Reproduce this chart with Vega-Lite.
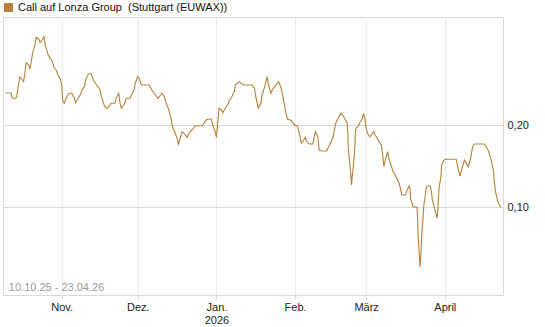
{
  "$schema": "https://vega.github.io/schema/vega-lite/v6.json",
  "width": 500,
  "height": 278,
  "autosize": {"type": "none"},
  "padding": {"left": 3, "top": 17, "right": 42, "bottom": 32},
  "background": "white",
  "config": {
    "font": "Liberation Sans",
    "view": {"stroke": "#d9d9d9", "strokeWidth": 1}
  },
  "data": {"values": [
    {"d": "2025-10-10T00:00", "v": 0.2390},
    {"d": "2025-10-12T00:00", "v": 0.2390},
    {"d": "2025-10-12T12:00", "v": 0.2326},
    {"d": "2025-10-14T00:00", "v": 0.2326},
    {"d": "2025-10-14T12:00", "v": 0.2387},
    {"d": "2025-10-15T00:00", "v": 0.2488},
    {"d": "2025-10-15T12:00", "v": 0.2589},
    {"d": "2025-10-16T00:00", "v": 0.2570},
    {"d": "2025-10-17T00:00", "v": 0.2528},
    {"d": "2025-10-17T12:00", "v": 0.2630},
    {"d": "2025-10-18T00:00", "v": 0.2760},
    {"d": "2025-10-19T00:00", "v": 0.2732},
    {"d": "2025-10-19T12:00", "v": 0.2683},
    {"d": "2025-10-20T00:00", "v": 0.2772},
    {"d": "2025-10-20T12:00", "v": 0.2874},
    {"d": "2025-10-21T12:00", "v": 0.2976},
    {"d": "2025-10-22T00:00", "v": 0.3070},
    {"d": "2025-10-23T00:00", "v": 0.3045},
    {"d": "2025-10-23T12:00", "v": 0.3009},
    {"d": "2025-10-24T12:00", "v": 0.3045},
    {"d": "2025-10-25T00:00", "v": 0.3077},
    {"d": "2025-10-25T12:00", "v": 0.2976},
    {"d": "2025-10-26T12:00", "v": 0.2874},
    {"d": "2025-10-27T00:00", "v": 0.2833},
    {"d": "2025-10-28T00:00", "v": 0.2793},
    {"d": "2025-10-28T12:00", "v": 0.2752},
    {"d": "2025-10-29T00:00", "v": 0.2704},
    {"d": "2025-10-30T00:00", "v": 0.2662},
    {"d": "2025-10-30T12:00", "v": 0.2610},
    {"d": "2025-10-31T12:00", "v": 0.2557},
    {"d": "2025-11-01T00:00", "v": 0.2488},
    {"d": "2025-11-01T12:00", "v": 0.2284},
    {"d": "2025-11-02T00:00", "v": 0.2265},
    {"d": "2025-11-02T12:00", "v": 0.2305},
    {"d": "2025-11-03T00:00", "v": 0.2345},
    {"d": "2025-11-04T00:00", "v": 0.2387},
    {"d": "2025-11-05T00:00", "v": 0.2387},
    {"d": "2025-11-06T00:00", "v": 0.2326},
    {"d": "2025-11-06T12:00", "v": 0.2272},
    {"d": "2025-11-07T12:00", "v": 0.2326},
    {"d": "2025-11-08T12:00", "v": 0.2378},
    {"d": "2025-11-09T00:00", "v": 0.2427},
    {"d": "2025-11-10T00:00", "v": 0.2467},
    {"d": "2025-11-10T12:00", "v": 0.2557},
    {"d": "2025-11-11T12:00", "v": 0.2618},
    {"d": "2025-11-12T12:00", "v": 0.2630},
    {"d": "2025-11-13T12:00", "v": 0.2549},
    {"d": "2025-11-14T12:00", "v": 0.2500},
    {"d": "2025-11-15T00:00", "v": 0.2476},
    {"d": "2025-11-16T00:00", "v": 0.2439},
    {"d": "2025-11-16T12:00", "v": 0.2366},
    {"d": "2025-11-17T12:00", "v": 0.2265},
    {"d": "2025-11-18T00:00", "v": 0.2223},
    {"d": "2025-11-19T00:00", "v": 0.2204},
    {"d": "2025-11-20T00:00", "v": 0.2244},
    {"d": "2025-11-20T12:00", "v": 0.2265},
    {"d": "2025-11-22T00:00", "v": 0.2265},
    {"d": "2025-11-22T12:00", "v": 0.2326},
    {"d": "2025-11-23T12:00", "v": 0.2387},
    {"d": "2025-11-24T00:00", "v": 0.2265},
    {"d": "2025-11-24T12:00", "v": 0.2204},
    {"d": "2025-11-25T12:00", "v": 0.2244},
    {"d": "2025-11-26T12:00", "v": 0.2326},
    {"d": "2025-11-28T00:00", "v": 0.2326},
    {"d": "2025-11-28T12:00", "v": 0.2366},
    {"d": "2025-11-29T12:00", "v": 0.2427},
    {"d": "2025-11-30T00:00", "v": 0.2509},
    {"d": "2025-12-01T00:00", "v": 0.2589},
    {"d": "2025-12-01T12:00", "v": 0.2570},
    {"d": "2025-12-02T12:00", "v": 0.2488},
    {"d": "2025-12-03T12:00", "v": 0.2488},
    {"d": "2025-12-05T12:00", "v": 0.2488},
    {"d": "2025-12-06T12:00", "v": 0.2427},
    {"d": "2025-12-07T12:00", "v": 0.2387},
    {"d": "2025-12-08T12:00", "v": 0.2345},
    {"d": "2025-12-09T00:00", "v": 0.2326},
    {"d": "2025-12-10T00:00", "v": 0.2366},
    {"d": "2025-12-10T12:00", "v": 0.2387},
    {"d": "2025-12-11T12:00", "v": 0.2345},
    {"d": "2025-12-12T00:00", "v": 0.2284},
    {"d": "2025-12-13T00:00", "v": 0.2204},
    {"d": "2025-12-14T00:00", "v": 0.2101},
    {"d": "2025-12-14T12:00", "v": 0.2000},
    {"d": "2025-12-15T12:00", "v": 0.1918},
    {"d": "2025-12-16T12:00", "v": 0.1838},
    {"d": "2025-12-17T00:00", "v": 0.1768},
    {"d": "2025-12-17T12:00", "v": 0.1817},
    {"d": "2025-12-18T12:00", "v": 0.1918},
    {"d": "2025-12-19T12:00", "v": 0.1890},
    {"d": "2025-12-20T12:00", "v": 0.1850},
    {"d": "2025-12-21T00:00", "v": 0.1890},
    {"d": "2025-12-22T00:00", "v": 0.1930},
    {"d": "2025-12-23T00:00", "v": 0.1960},
    {"d": "2025-12-23T12:00", "v": 0.1991},
    {"d": "2025-12-26T12:00", "v": 0.1991},
    {"d": "2025-12-27T00:00", "v": 0.2021},
    {"d": "2025-12-28T00:00", "v": 0.2061},
    {"d": "2025-12-29T00:00", "v": 0.2073},
    {"d": "2025-12-30T00:00", "v": 0.2073},
    {"d": "2025-12-30T12:00", "v": 0.2000},
    {"d": "2025-12-31T12:00", "v": 0.1918},
    {"d": "2026-01-01T00:00", "v": 0.1850},
    {"d": "2026-01-01T12:00", "v": 0.2021},
    {"d": "2026-01-02T00:00", "v": 0.2204},
    {"d": "2026-01-03T00:00", "v": 0.2183},
    {"d": "2026-01-03T12:00", "v": 0.2150},
    {"d": "2026-01-04T12:00", "v": 0.2204},
    {"d": "2026-01-05T12:00", "v": 0.2252},
    {"d": "2026-01-06T00:00", "v": 0.2296},
    {"d": "2026-01-07T00:00", "v": 0.2338},
    {"d": "2026-01-08T00:00", "v": 0.2406},
    {"d": "2026-01-08T12:00", "v": 0.2488},
    {"d": "2026-01-09T12:00", "v": 0.2516},
    {"d": "2026-01-10T00:00", "v": 0.2528},
    {"d": "2026-01-11T00:00", "v": 0.2500},
    {"d": "2026-01-12T00:00", "v": 0.2488},
    {"d": "2026-01-15T00:00", "v": 0.2488},
    {"d": "2026-01-16T00:00", "v": 0.2448},
    {"d": "2026-01-16T12:00", "v": 0.2345},
    {"d": "2026-01-17T12:00", "v": 0.2204},
    {"d": "2026-01-18T12:00", "v": 0.2265},
    {"d": "2026-01-19T00:00", "v": 0.2366},
    {"d": "2026-01-20T00:00", "v": 0.2467},
    {"d": "2026-01-21T00:00", "v": 0.2589},
    {"d": "2026-01-21T12:00", "v": 0.2488},
    {"d": "2026-01-22T12:00", "v": 0.2387},
    {"d": "2026-01-23T00:00", "v": 0.2427},
    {"d": "2026-01-24T00:00", "v": 0.2467},
    {"d": "2026-01-25T00:00", "v": 0.2509},
    {"d": "2026-01-25T12:00", "v": 0.2528},
    {"d": "2026-01-26T12:00", "v": 0.2448},
    {"d": "2026-01-27T00:00", "v": 0.2387},
    {"d": "2026-01-28T00:00", "v": 0.2204},
    {"d": "2026-01-29T00:00", "v": 0.2070},
    {"d": "2026-01-30T00:00", "v": 0.2061},
    {"d": "2026-01-31T00:00", "v": 0.2040},
    {"d": "2026-01-31T12:00", "v": 0.2009},
    {"d": "2026-02-02T00:00", "v": 0.1979},
    {"d": "2026-02-02T12:00", "v": 0.1918},
    {"d": "2026-02-03T12:00", "v": 0.1777},
    {"d": "2026-02-04T00:00", "v": 0.1796},
    {"d": "2026-02-05T00:00", "v": 0.1850},
    {"d": "2026-02-05T12:00", "v": 0.1805},
    {"d": "2026-02-06T12:00", "v": 0.1768},
    {"d": "2026-02-08T00:00", "v": 0.1768},
    {"d": "2026-02-08T12:00", "v": 0.1857},
    {"d": "2026-02-09T00:00", "v": 0.1918},
    {"d": "2026-02-10T00:00", "v": 0.1850},
    {"d": "2026-02-10T12:00", "v": 0.1695},
    {"d": "2026-02-11T12:00", "v": 0.1683},
    {"d": "2026-02-13T12:00", "v": 0.1683},
    {"d": "2026-02-14T00:00", "v": 0.1723},
    {"d": "2026-02-15T00:00", "v": 0.1784},
    {"d": "2026-02-16T00:00", "v": 0.1857},
    {"d": "2026-02-16T12:00", "v": 0.1939},
    {"d": "2026-02-17T00:00", "v": 0.2021},
    {"d": "2026-02-18T00:00", "v": 0.2082},
    {"d": "2026-02-19T00:00", "v": 0.2143},
    {"d": "2026-02-20T00:00", "v": 0.2110},
    {"d": "2026-02-20T12:00", "v": 0.2082},
    {"d": "2026-02-21T12:00", "v": 0.2028},
    {"d": "2026-02-21T18:00", "v": 0.1918},
    {"d": "2026-02-22T00:00", "v": 0.1695},
    {"d": "2026-02-22T12:00", "v": 0.1552},
    {"d": "2026-02-23T00:00", "v": 0.1370},
    {"d": "2026-02-23T06:00", "v": 0.1268},
    {"d": "2026-02-23T12:00", "v": 0.1370},
    {"d": "2026-02-24T00:00", "v": 0.1512},
    {"d": "2026-02-24T12:00", "v": 0.1695},
    {"d": "2026-02-24T18:00", "v": 0.1906},
    {"d": "2026-02-25T00:00", "v": 0.1960},
    {"d": "2026-02-26T00:00", "v": 0.1988},
    {"d": "2026-02-26T12:00", "v": 0.2028},
    {"d": "2026-02-27T12:00", "v": 0.2082},
    {"d": "2026-02-28T00:00", "v": 0.2143},
    {"d": "2026-02-28T12:00", "v": 0.2082},
    {"d": "2026-03-01T00:00", "v": 0.1960},
    {"d": "2026-03-01T12:00", "v": 0.1899},
    {"d": "2026-03-02T12:00", "v": 0.1857},
    {"d": "2026-03-03T00:00", "v": 0.1878},
    {"d": "2026-03-04T00:00", "v": 0.1918},
    {"d": "2026-03-04T12:00", "v": 0.1878},
    {"d": "2026-03-05T12:00", "v": 0.1838},
    {"d": "2026-03-06T00:00", "v": 0.1796},
    {"d": "2026-03-07T00:00", "v": 0.1756},
    {"d": "2026-03-07T12:00", "v": 0.1634},
    {"d": "2026-03-08T00:00", "v": 0.1491},
    {"d": "2026-03-08T12:00", "v": 0.1573},
    {"d": "2026-03-09T12:00", "v": 0.1674},
    {"d": "2026-03-10T00:00", "v": 0.1594},
    {"d": "2026-03-11T00:00", "v": 0.1491},
    {"d": "2026-03-11T12:00", "v": 0.1443},
    {"d": "2026-03-12T12:00", "v": 0.1390},
    {"d": "2026-03-13T00:00", "v": 0.1350},
    {"d": "2026-03-14T00:00", "v": 0.1289},
    {"d": "2026-03-14T12:00", "v": 0.1228},
    {"d": "2026-03-15T00:00", "v": 0.1146},
    {"d": "2026-03-16T12:00", "v": 0.1146},
    {"d": "2026-03-17T00:00", "v": 0.1199},
    {"d": "2026-03-18T00:00", "v": 0.1256},
    {"d": "2026-03-18T06:00", "v": 0.1240},
    {"d": "2026-03-18T12:00", "v": 0.1106},
    {"d": "2026-03-19T12:00", "v": 0.1004},
    {"d": "2026-03-21T00:00", "v": 0.0996},
    {"d": "2026-03-21T06:00", "v": 0.0882},
    {"d": "2026-03-21T12:00", "v": 0.0638},
    {"d": "2026-03-22T00:00", "v": 0.0394},
    {"d": "2026-03-22T06:00", "v": 0.0272},
    {"d": "2026-03-22T12:00", "v": 0.0374},
    {"d": "2026-03-22T18:00", "v": 0.0537},
    {"d": "2026-03-23T00:00", "v": 0.0720},
    {"d": "2026-03-23T12:00", "v": 0.0882},
    {"d": "2026-03-23T18:00", "v": 0.1024},
    {"d": "2026-03-24T06:00", "v": 0.1126},
    {"d": "2026-03-24T12:00", "v": 0.1207},
    {"d": "2026-03-25T00:00", "v": 0.1256},
    {"d": "2026-03-26T06:00", "v": 0.1256},
    {"d": "2026-03-26T18:00", "v": 0.1187},
    {"d": "2026-03-27T00:00", "v": 0.1106},
    {"d": "2026-03-27T18:00", "v": 0.1004},
    {"d": "2026-03-28T12:00", "v": 0.0923},
    {"d": "2026-03-29T00:00", "v": 0.0862},
    {"d": "2026-03-29T06:00", "v": 0.0963},
    {"d": "2026-03-29T18:00", "v": 0.1240},
    {"d": "2026-03-30T12:00", "v": 0.1370},
    {"d": "2026-03-30T18:00", "v": 0.1512},
    {"d": "2026-03-31T12:00", "v": 0.1565},
    {"d": "2026-04-01T06:00", "v": 0.1582},
    {"d": "2026-04-05T12:00", "v": 0.1582},
    {"d": "2026-04-06T06:00", "v": 0.1472},
    {"d": "2026-04-07T00:00", "v": 0.1378},
    {"d": "2026-04-07T18:00", "v": 0.1472},
    {"d": "2026-04-08T18:00", "v": 0.1573},
    {"d": "2026-04-09T12:00", "v": 0.1533},
    {"d": "2026-04-10T06:00", "v": 0.1491},
    {"d": "2026-04-11T00:00", "v": 0.1573},
    {"d": "2026-04-12T00:00", "v": 0.1735},
    {"d": "2026-04-12T18:00", "v": 0.1768},
    {"d": "2026-04-16T12:00", "v": 0.1768},
    {"d": "2026-04-17T18:00", "v": 0.1716},
    {"d": "2026-04-18T12:00", "v": 0.1655},
    {"d": "2026-04-19T06:00", "v": 0.1573},
    {"d": "2026-04-20T06:00", "v": 0.1430},
    {"d": "2026-04-20T12:00", "v": 0.1309},
    {"d": "2026-04-21T00:00", "v": 0.1187},
    {"d": "2026-04-21T18:00", "v": 0.1085},
    {"d": "2026-04-22T12:00", "v": 0.1024},
    {"d": "2026-04-23T00:00", "v": 0.0996}
  ]},
  "encoding": {
    "x": {
      "field": "d", "type": "temporal",
      "scale": {
        "type": "time",
        "domain": [
          {"year": 2025, "month": 10, "date": 8, "hours": 21},
          {"year": 2026, "month": 4, "date": 23, "hours": 22, "minutes": 30}
        ],
        "nice": false
      },
      "axis": {
        "title": null,
        "values": [
          {"year": 2025, "month": 11, "date": 1},
          {"year": 2025, "month": 12, "date": 1},
          {"year": 2026, "month": 1, "date": 1},
          {"year": 2026, "month": 2, "date": 1},
          {"year": 2026, "month": 3, "date": 1},
          {"year": 2026, "month": 4, "date": 1}
        ],
        "labelExpr": "month(datum.value)==10 ? 'Nov.' : month(datum.value)==11 ? 'Dez.' : month(datum.value)==0 ? ['Jan.', '2026'] : month(datum.value)==1 ? 'Feb.' : month(datum.value)==2 ? 'März' : 'April'",
        "grid": true,
        "gridColor": "#ececec",
        "gridWidth": 1,
        "domain": false,
        "ticks": true,
        "tickColor": "#d9d9d9",
        "tickSize": 4,
        "labelPadding": 2,
        "labelFontSize": 11,
        "labelColor": "#222222",
        "labelFont": "Liberation Sans",
        "labelLineHeight": 13,
        "labelFlush": false,
        "labelOverlap": false
      }
    },
    "y": {
      "field": "v", "type": "quantitative",
      "scale": {"domain": [-0.0073, 0.3317], "nice": false, "zero": false},
      "axis": {
        "title": null,
        "orient": "right",
        "values": [0.1, 0.2],
        "labelExpr": "replace(format(datum.value, '.2f'), '.', ',')",
        "grid": true,
        "gridColor": "#d9d9d9",
        "domain": false,
        "ticks": false,
        "labelPadding": 4,
        "labelFontSize": 11,
        "labelColor": "#222222",
        "labelFont": "Liberation Sans"
      }
    }
  },
  "layer": [
    {
      "mark": {"type": "line", "strokeWidth": 1.1, "interpolate": "linear"},
      "encoding": {
        "color": {
          "datum": "Call auf Lonza Group \u00a0(Stuttgart (EUWAX))",
          "type": "nominal",
          "scale": {"range": ["#b5813a"]},
          "legend": {
            "title": null,
            "orient": "none",
            "legendX": 0,
            "legendY": -15,
            "padding": 0,
            "symbolType": "square",
            "symbolSize": 64,
            "symbolStrokeWidth": 1,
            "labelOffset": 4,
            "labelFontSize": 11,
            "labelFont": "Liberation Sans",
            "labelColor": "#111111",
            "labelLimit": 400,
            "encode": {
              "symbols": {"update": {"fill": {"value": "#b5813a"}, "stroke": {"value": "#5c4220"}, "strokeWidth": {"value": 1}}}
            }
          }
        }
      }
    },
    {
      "data": {"values": [{"d": "2025-10-10T00:00", "v": -0.0073, "t": "10.10.25 - 23.04.26"}]},
      "mark": {"type": "text", "align": "left", "baseline": "alphabetic", "dx": 3, "dy": -4, "fontSize": 11, "font": "Liberation Sans", "color": "#9a9a9a"},
      "encoding": {
        "text": {"field": "t"}
      }
    }
  ]
}
